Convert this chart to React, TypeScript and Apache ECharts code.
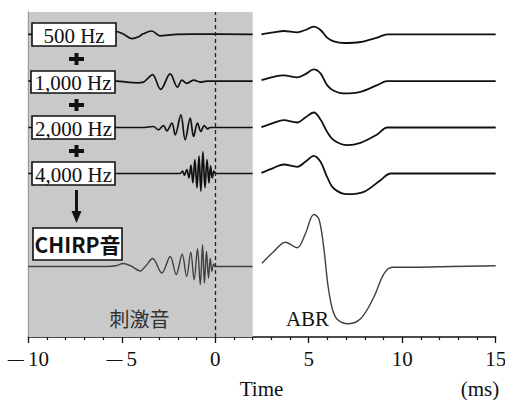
import React, { useEffect, useRef } from "react";
import * as echarts from "echarts";

// x tick labels (ms)
const X_MIN = -10;
const X_MAX = 15;
const X_STEP = 5;

// baselines of each row (vertical value units)
const ROW_NAMES = ["500 Hz", "1,000 Hz", "2,000 Hz", "4,000 Hz", "CHIRP音"];
const ROW_BASE = [302.7, 255.9, 209.5, 163.5, 70.5];

// stimulus waveforms: [time ms, amplitude]
const STIM_500 = [[-10, 0], [-5.7, 0], [-5.3, 2.8], [-4.9, 0], [-4.45, -4.3], [-4.1, -2.5], [-3.85, 0.5], [-3.4, 3.3], [-2.95, -1.5], [-2.6, -1], [-2.1, 0], [-1.2, 0.2], [2, 0]];
const STIM_1000 = [[-10, 0], [-5.25, 0], [-4.73, -1], [-4.2, -1.7], [-3.84, -1], [-3.62, 2.5], [-3.36, 6.5], [-2.92, -8.3], [-2.41, 7.3], [-2.02, -6], [-1.78, 1], [-1.52, -2.3], [-1.16, 1], [-0.8, -1], [-0.44, 0], [2, 0]];
const STIM_2000 = [[-10, 0], [-3.9, 0], [-3.31, 1], [-3.04, -2.3], [-2.77, 2], [-2.59, -3.3], [-2.32, 4.3], [-2.14, -7.3], [-1.84, 12.7], [-1.61, -12.3], [-1.34, 9.3], [-1.16, -9], [-0.95, 4.3], [-0.77, -4], [-0.59, 2], [-0.41, -1.3], [-0.27, 0], [2, 0]];
const STIM_4000 = [[-10, 0], [-1.88, 0], [-1.75, 2.3], [-1.65, -1.7], [-1.52, 4], [-1.41, -4.3], [-1.3, 8.3], [-1.2, -9.3], [-1.09, 14], [-0.98, -14.3], [-0.87, 17.3], [-0.77, -17.7], [-0.66, 21.7], [-0.55, -14.3], [-0.44, 14], [-0.34, -9.3], [-0.25, 7.3], [-0.16, -4.3], [-0.07, 2.3], [0.02, 0], [2, 0]];
const STIM_CHIRP = [[-10, 0], [-5.8, 0], [-5.3, 0.8], [-4.93, 3], [-4.5, 0.5], [-4.02, -4.5], [-3.7, 1], [-3.35, 8], [-2.86, -6.5], [-2.41, 10], [-2.09, -8], [-1.77, 12.3], [-1.53, -10], [-1.31, 14.3], [-1.13, -13.3], [-0.95, 17.7], [-0.8, -18.3], [-0.68, 21.7], [-0.58, -16.7], [-0.47, 15], [-0.36, -11.7], [-0.27, 8.3], [-0.18, -5], [-0.09, 2.3], [0, 0], [2, 0]];

// ABR responses: [time ms, amplitude]
const ABR_500 = [[2.47, 0], [3.13, 2], [3.66, 3.3], [4.38, 2], [4.82, 4.3], [5.27, 7.7], [5.63, 4.3], [5.98, -3.3], [6.34, -7], [6.88, -8.7], [7.77, -7.7], [8.66, -3.3], [9.2, 0], [9.7, 0], [15, 0]];
const ABR_1000 = [[2.47, 1], [3.13, 4.3], [3.66, 5.7], [4.38, 3.7], [4.82, 7], [5.27, 11.7], [5.63, 7.7], [5.98, -4], [6.34, -9.7], [6.88, -12.3], [7.77, -10.7], [8.66, -4], [9.2, 0], [9.7, 0], [15, 0]];
const ABR_2000 = [[2.47, 0.3], [3.13, 4.7], [3.66, 7.3], [4.38, 5], [4.82, 10], [5.27, 15], [5.63, 8], [5.98, -4.3], [6.34, -12.7], [7.06, -17.7], [7.77, -15.3], [8.66, -7], [9.2, 0], [9.7, 0], [15, 0]];
const ABR_4000 = [[2.47, 0.7], [3.13, 5.7], [3.66, 9], [4.38, 6.7], [4.82, 11.7], [5.27, 17.7], [5.63, 11.7], [5.98, -3.3], [6.34, -15], [7.06, -20.7], [7.95, -18.3], [8.84, -6.7], [9.38, 0], [9.9, 0], [15, 0]];
const ABR_CHIRP = [[2.5, 3.3], [3.13, 15], [3.75, 24.3], [4.38, 18.7], [4.82, 32.7], [5.27, 52], [5.54, 47.7], [5.8, 19.3], [6.07, -24], [6.43, -50.7], [7.06, -57.3], [7.77, -52.3], [8.48, -30.7], [9.02, -7.3], [9.47, -0.7], [10.8, -0.7], [12.6, 0], [15, 0.7]];

const STIMULI = [STIM_500, STIM_1000, STIM_2000, STIM_4000, STIM_CHIRP];
const RESPONSES = [ABR_500, ABR_1000, ABR_2000, ABR_4000, ABR_CHIRP];

const SERIF = "Liberation Serif";
const CJK = "Noto Sans CJK JP";

export default function App() {
  const ref = useRef<HTMLDivElement>(null);

  useEffect(() => {
    if (!ref.current) return;
    const chart = echarts.init(ref.current, undefined, { renderer: "svg" });

    const series: any[] = [];
    STIMULI.forEach((d, i) => {
      const isChirp = i === 4;
      series.push({
        type: "line",
        name: ROW_NAMES[i] + " stim",
        data: d.map(([t, a]) => [t, ROW_BASE[i] + a]),
        showSymbol: false,
        smooth: 0.35,
        lineStyle: { color: isChirp ? "#404040" : "#111", width: isChirp ? 1.4 : 1.7 },
        z: 3,
        ...(i === 0
          ? {
              markArea: {
                silent: true,
                itemStyle: { color: "#c9c9c9" },
                data: [[{ xAxis: -10 }, { xAxis: 2 }]],
              },
              markLine: {
                silent: true,
                symbol: "none",
                label: { show: false },
                lineStyle: { color: "#222", type: [4, 3], width: 1.3 },
                data: [{ xAxis: 0 }],
              },
            }
          : {}),
      });
    });
    RESPONSES.forEach((d, i) => {
      const isChirp = i === 4;
      series.push({
        type: "line",
        name: ROW_NAMES[i] + " ABR",
        data: d.map(([t, a]) => [t, ROW_BASE[i] + a]),
        showSymbol: false,
        smooth: 0.35,
        lineStyle: { color: isChirp ? "#404040" : "#111", width: isChirp ? 1.4 : 1.8 },
        z: 3,
      });
    });

    const boxes = [
      { x: 32, y: 23, w: 84, h: 23 },
      { x: 31, y: 71, w: 84, h: 22 },
      { x: 32, y: 116, w: 83, h: 23 },
      { x: 32, y: 162, w: 83, h: 23 },
      { x: 33, y: 228, w: 89, h: 32 },
    ];

    const graphic: any[] = [];
    boxes.forEach((b, i) => {
      const isChirp = i === 4;
      graphic.push({
        type: "rect",
        z: 10,
        shape: { x: b.x, y: b.y, width: b.w, height: b.h },
        style: { fill: "#fff", stroke: "#111", lineWidth: 1.6 },
      });
      graphic.push({
        type: "text",
        z: 11,
        x: b.x + b.w / 2,
        y: b.y + b.h / 2 + (isChirp ? 0 : 1),
        style: {
          text: ROW_NAMES[i],
          fill: "#111",
          fontFamily: isChirp ? CJK : SERIF,
          fontWeight: isChirp ? "bold" : "normal",
          fontSize: 21,
          align: "center",
          verticalAlign: "middle",
        },
      });
    });
    [59, 105, 151].forEach((cy) => {
      graphic.push({ type: "rect", z: 10, shape: { x: 69, y: cy - 2, width: 15, height: 4 }, style: { fill: "#111" } });
      graphic.push({ type: "rect", z: 10, shape: { x: 74.5, y: cy - 6, width: 4, height: 12 }, style: { fill: "#111" } });
    });
    graphic.push({ type: "line", z: 10, shape: { x1: 76.5, y1: 190, x2: 76.5, y2: 214 }, style: { stroke: "#111", lineWidth: 3 } });
    graphic.push({ type: "polygon", z: 10, shape: { points: [[71.5, 211], [81.5, 211], [76.5, 223]] }, style: { fill: "#111" } });
    graphic.push({
      type: "text", z: 10, x: 139.5, y: 318,
      style: { text: "刺激音", fill: "#333", fontFamily: CJK, fontSize: 20, align: "center", verticalAlign: "middle" },
    });
    graphic.push({
      type: "text", z: 10, x: 307.5, y: 319,
      style: { text: "ABR", fill: "#111", fontFamily: SERIF, fontSize: 21, align: "center", verticalAlign: "middle" },
    });
    graphic.push({
      type: "text", z: 10, x: 261.5, y: 389,
      style: { text: "Time", fill: "#111", fontFamily: SERIF, fontSize: 21, align: "center", verticalAlign: "middle" },
    });
    graphic.push({
      type: "text", z: 10, x: 480, y: 389,
      style: { text: "(ms)", fill: "#111", fontFamily: SERIF, fontSize: 21, align: "center", verticalAlign: "middle" },
    });

    chart.setOption({
      animation: false,
      grid: { left: 28.3, right: 9.3, top: 12, bottom: 63, containLabel: false, outerBoundsMode: "none" },
      xAxis: {
        type: "value",
        min: X_MIN,
        max: X_MAX,
        interval: X_STEP,
        axisLine: { onZero: false, lineStyle: { color: "#111", width: 1.5 } },
        axisTick: { show: true, length: 6, lineStyle: { color: "#111", width: 1.3 } },
        minorTick: { show: true, splitNumber: 5, length: 3, lineStyle: { color: "#111", width: 1.2 } },
        splitLine: { show: false },
        minorSplitLine: { show: false },
        axisLabel: {
          fontFamily: SERIF,
          fontSize: 21,
          color: "#111",
          margin: 11,
          formatter: (v: number) => (v < 0 ? "{m|\u2014}\u2009" + Math.abs(v) : String(v)),
          rich: {
            m: { fontFamily: SERIF, fontSize: 16, color: "#111" },
          },
        },
      },
      yAxis: {
        type: "value",
        min: 0,
        max: 325,
        axisLine: { show: true, onZero: false, lineStyle: { color: "#333", width: 1.2 } },
        axisTick: { show: false },
        axisLabel: { show: false },
        splitLine: { show: false },
      },
      series,
      graphic,
    });

    return () => chart.dispose();
  }, []);

  return <div ref={ref} style={{ position: "absolute", left: 0, top: 0, width: 505, height: 400 }} />;
}
